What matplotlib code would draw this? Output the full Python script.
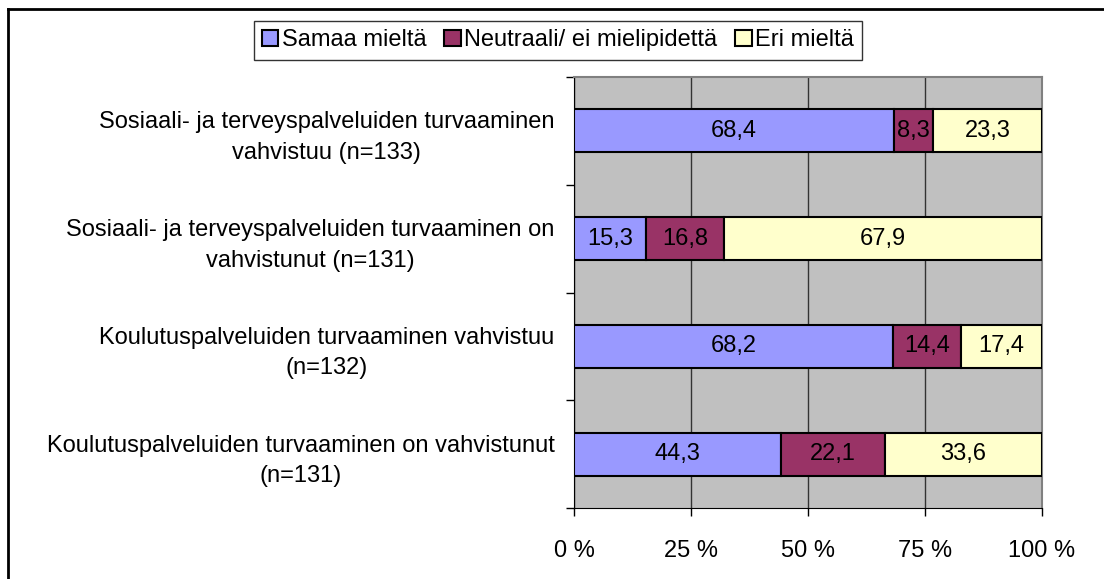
import matplotlib.pyplot as plt
from matplotlib.lines import Line2D
import numpy as np

plt.rcParams['font.family'] = ['Liberation Sans', 'DejaVu Sans']

# Data, top row first
categories = [
    "Sosiaali- ja terveyspalveluiden turvaaminen\nvahvistuu (n=133)",
    "Sosiaali- ja terveyspalveluiden turvaaminen on\nvahvistunut (n=131)",
    "Koulutuspalveluiden turvaaminen vahvistuu\n(n=132)",
    "Koulutuspalveluiden turvaaminen on vahvistunut\n(n=131)",
]
series_names = ["Samaa mieltä", "Neutraali/ ei mielipidettä", "Eri mieltä"]
samaa = [68.4, 15.3, 68.2, 44.3]
neutraali = [8.3, 16.8, 14.4, 22.1]
eri = [23.3, 67.9, 17.4, 33.6]
colors = ["#9999FF", "#993366", "#FFFFCC"]
xticks = [0, 25, 50, 75, 100]

fs = 17

fig = plt.figure(figsize=(11.04, 5.79), dpi=100)
ax = fig.add_axes([574 / 1104, 1 - 508 / 579, 468 / 1104, 431 / 579])
ax.set_facecolor("#C0C0C0")

y = np.arange(len(categories))[::-1]
left = np.zeros(len(categories))
for name, vals, col in zip(series_names, [samaa, neutraali, eri], colors):
    vals = np.array(vals)
    ax.barh(y, vals, left=left, height=0.4, color=col,
            edgecolor="black", linewidth=1.5, label=name, zorder=3)
    for yi, l, v in zip(y, left, vals):
        ax.text(l + v / 2, yi, f"{v:.1f}".replace(".", ","), ha="center",
                va="center", fontsize=fs, zorder=4)
    left = left + vals

ax.set_xlim(0, 100)
ax.set_ylim(-0.5, len(categories) - 0.5)
ax.set_xticks(xticks)
ax.set_xticklabels([f"{t} %" for t in xticks], fontsize=fs)
ax.xaxis.grid(True, color="#333333", linewidth=1, zorder=1)
ax.tick_params(axis="x", length=6, width=1, pad=17)

# labels at bar centres, tick marks at category boundaries
ax.set_yticks(y)
ax.set_yticklabels(categories, fontsize=fs, multialignment="center",
                   linespacing=1.5)
ax.tick_params(axis="y", which="major", length=0, pad=14)
ax.set_yticks(np.arange(len(categories) + 1) - 0.5, minor=True)
ax.tick_params(axis="y", which="minor", length=6, width=1)

for s in ["left", "bottom"]:
    ax.spines[s].set_color("black")
for s in ["top", "right"]:
    ax.spines[s].set_color("#808080")
    ax.spines[s].set_linewidth(1.5)

leg = fig.legend(loc="upper center", bbox_to_anchor=(558 / 1104, 1 - 21 / 579),
                 ncol=3, fontsize=fs, frameon=True, fancybox=False,
                 edgecolor="black", handlelength=0.7, handleheight=0.7,
                 handletextpad=0.15, columnspacing=0.75, borderpad=0.35,
                 borderaxespad=0)
leg.get_frame().set_linewidth(1)

# outer chart border (only top and left visible)
fig.add_artist(Line2D([8 / 1104, 8 / 1104], [0, 1 - 9 / 579], color="black",
                      linewidth=2, transform=fig.transFigure))
fig.add_artist(Line2D([8 / 1104, 1], [1 - 9 / 579, 1 - 9 / 579], color="black",
                      linewidth=2, transform=fig.transFigure))

fig.savefig("out.png", dpi=100)
